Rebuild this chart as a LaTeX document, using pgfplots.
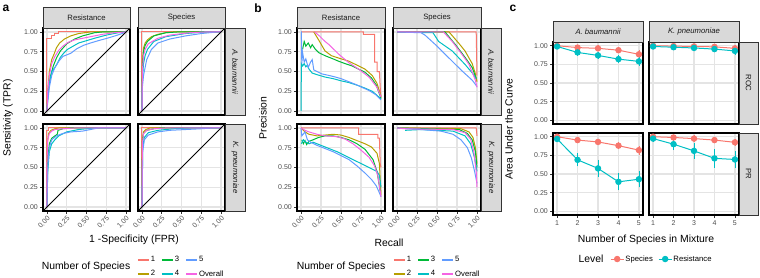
\documentclass[border=0pt]{standalone}
\usepackage{fontspec}
\setmainfont{Liberation Sans}
\usepackage{pgfplots}
\pgfplotsset{compat=1.18}
\usetikzlibrary{calc}

\definecolor{c1}{HTML}{F8766D}
\definecolor{c2}{HTML}{B79F00}
\definecolor{c3}{HTML}{00BA38}
\definecolor{c4}{HTML}{00BFC4}
\definecolor{c5}{HTML}{619CFF}
\definecolor{c6}{HTML}{F564E3}
\definecolor{stripc}{HTML}{D9D9D9}
\definecolor{grey10}{HTML}{1A1A1A}
\definecolor{grey20}{HTML}{333333}
\definecolor{grey30}{HTML}{4D4D4D}
\definecolor{gridc}{HTML}{E4E4E4}

\newcommand{\fT}{\fontsize{7}{8}\selectfont}
\newcommand{\fS}{\fontsize{7.7}{9}\selectfont}
\newcommand{\fL}{\fontsize{10.4}{12}\selectfont}

\newcommand{\tstrip}[5]{\draw[fill=stripc, draw=grey20, line width=0.5pt] (#1pt,-#2pt) rectangle (#3pt,-#4pt);
 \node[font=\fS, text=grey10, inner sep=0pt] at ($(#1pt,-#2pt)!0.5!(#3pt,-#4pt)$) {#5};}
\newcommand{\rstrip}[5]{\draw[fill=stripc, draw=grey20, line width=0.5pt] (#1pt,-#2pt) rectangle (#3pt,-#4pt);
 \node[font=\fS, text=grey10, inner sep=0pt, rotate=-90] at ($(#1pt,-#2pt)!0.5!(#3pt,-#4pt)$) {#5};}

\tikzset{
 s1/.style={c1, line width=1pt},
 s2/.style={c2, line width=1pt},
 s3/.style={c3, line width=1pt},
 s4/.style={c4, line width=1pt},
 s5/.style={c5, line width=1pt},
 s6/.style={c6, line width=1pt},
 sp/.style={c1, line width=1pt, mark=*, mark size=2.7pt, mark options={solid, fill=c1, draw=c1}},
 rs/.style={c4, line width=1pt, mark=*, mark size=2.7pt, mark options={solid, fill=c4, draw=c4}},
}

\pgfplotsset{
 common/.style={scale only axis, anchor=south west,
  xticklabels={}, yticklabels={},
  grid=major, major grid style={draw=gridc, line width=1.5pt},
  axis line style={draw=black, line width=1.2pt},
  tick align=outside, major tick length=3pt,
  tick style={draw=grey20, line width=0.7pt},
  tick label style={font=\fT, text=grey30}},
 base/.style={common, xmin=-0.05, xmax=1.05, ymin=-0.05, ymax=1.05,
  xtick={0,0.25,0.5,0.75,1}, ytick={0,0.25,0.5,0.75,1}, width=87pt, height=87pt},
 cbase/.style={common, xmin=0.8, xmax=5.2, ymin=-0.05, ymax=1.05,
  xtick={1,2,3,4,5}, ytick={0,0.25,0.5,0.75,1}, width=90pt, height=82pt},
 xl/.style={xticklabels={0.00,0.25,0.50,0.75,1.00}, xticklabel style={rotate=45, anchor=north east, inner sep=1pt}},
 yl/.style={yticklabels={0.00,0.25,0.50,0.75,1.00}, yticklabel style={inner sep=2pt}},
 cxl/.style={xticklabels={1,2,3,4,5}, xticklabel style={inner sep=2pt}},
 legA/.style={legend columns=3, legend cell align=left,
  legend style={draw=none, fill=none, font=\fS, inner sep=0pt, row sep=4.5pt,
   nodes={inner sep=1.3pt}, /tikz/every even column/.append style={column sep=5pt}},
  legend image code/.code={\draw[##1] (0pt,0pt) -- (11pt,0pt);}},
 legC/.style={legend columns=2, legend cell align=left,
  legend style={draw=none, fill=none, font=\fS, inner sep=0pt,
   nodes={inner sep=1.3pt}, /tikz/every even column/.append style={column sep=4pt}},
  legend image code/.code={\draw[mark repeat=2, mark phase=2, ##1] plot coordinates {(0pt,0pt)(6.5pt,0pt)(13pt,0pt)};}},
 ebs/.style={error bars/.cd, y dir=both, y explicit, error bar style={#1, line width=0.8pt}, error mark options={#1, mark size=2.5pt, line width=0.8pt}},
}

\begin{document}
\begin{tikzpicture}
\useasboundingbox (0pt,0pt) rectangle (760pt,-278pt);

%%%%%%%%%%%%%%%% Panel a %%%%%%%%%%%%%%%%
\begin{axis}[base, at={(43pt,-115pt)}, xtick pos=right, ytick pos=left, yl]
\addplot[s1] coordinates {(0,0)(0,0.92)(0.06,0.92)(0.06,0.95)(0.1,0.95)(0.1,0.98)(0.15,0.98)(0.15,1)(1,1)};
\addplot[s2] coordinates {(0,0)(0.01,0.25)(0.03,0.5)(0.06,0.65)(0.09,0.72)(0.12,0.8)(0.16,0.86)(0.22,0.91)(0.3,0.95)(0.4,0.98)(0.55,1)(1,1)};
\addplot[s3] coordinates {(0,0)(0.01,0.2)(0.04,0.42)(0.08,0.57)(0.12,0.67)(0.17,0.76)(0.25,0.85)(0.35,0.91)(0.45,0.95)(0.6,0.99)(0.7,1)(1,1)};
\addplot[s4] coordinates {(0,0)(0.01,0.15)(0.03,0.35)(0.06,0.5)(0.1,0.55)(0.13,0.6)(0.17,0.68)(0.21,0.73)(0.26,0.78)(0.33,0.82)(0.4,0.86)(0.5,0.89)(0.6,0.92)(0.75,0.96)(0.9,0.99)(1,1)};
\addplot[s5] coordinates {(0,0)(0.01,0.12)(0.03,0.3)(0.06,0.45)(0.1,0.55)(0.15,0.63)(0.2,0.69)(0.25,0.71)(0.3,0.73)(0.38,0.79)(0.46,0.83)(0.55,0.86)(0.65,0.89)(0.76,0.92)(0.86,0.95)(0.95,0.98)(1,1)};
\addplot[s6] coordinates {(0,0)(0.01,0.25)(0.03,0.45)(0.06,0.6)(0.1,0.69)(0.15,0.77)(0.2,0.82)(0.27,0.87)(0.35,0.9)(0.45,0.92)(0.55,0.94)(0.7,0.97)(0.85,0.99)(1,1)};
\addplot[black, line width=1pt] coordinates {(-0.05,-0.05)(1.05,1.05)};
\end{axis}

\begin{axis}[base, at={(138pt,-115pt)}, xtick pos=right, ytick pos=right]
\addplot[s1] coordinates {(0,0)(0,1)(1,1)};
\addplot[s2] coordinates {(0,0)(0.005,0.6)(0.02,0.8)(0.04,0.86)(0.07,0.9)(0.12,0.94)(0.2,0.97)(0.3,0.99)(0.4,1)(1,1)};
\addplot[s3] coordinates {(0,0)(0.005,0.55)(0.02,0.75)(0.04,0.83)(0.07,0.88)(0.15,0.95)(0.3,0.99)(0.45,1)(1,1)};
\addplot[s4] coordinates {(0,0)(0.005,0.4)(0.02,0.6)(0.04,0.7)(0.07,0.78)(0.15,0.88)(0.3,0.94)(0.55,0.98)(0.8,1)(1,1)};
\addplot[s5] coordinates {(0,0)(0.005,0.3)(0.02,0.45)(0.06,0.65)(0.12,0.78)(0.2,0.86)(0.35,0.91)(0.55,0.95)(0.75,0.98)(0.95,1)(1,1)};
\addplot[s6] coordinates {(0,0)(0.005,0.5)(0.02,0.7)(0.04,0.78)(0.08,0.85)(0.2,0.92)(0.35,0.96)(0.6,0.99)(0.8,1)(1,1)};
\addplot[black, line width=1pt] coordinates {(-0.05,-0.05)(1.05,1.05)};
\end{axis}

\begin{axis}[base, at={(43pt,-211pt)}, xtick pos=left, ytick pos=left, xl, yl, legA,
  legend style={at={(1.08,-0.644)}, anchor=west}]
\addlegendimage{c1, line width=1.3pt}\addlegendentry{1}
\addlegendimage{c3, line width=1.3pt}\addlegendentry{3}
\addlegendimage{c5, line width=1.3pt}\addlegendentry{5}
\addlegendimage{c2, line width=1.3pt}\addlegendentry{2}
\addlegendimage{c4, line width=1.3pt}\addlegendentry{4}
\addlegendimage{c6, line width=1.3pt}\addlegendentry{Overall}
\addplot[s1] coordinates {(0,0)(0,0.97)(0.02,0.97)(0.02,1)(1,1)};
\addplot[s2] coordinates {(0,0)(0.005,0.8)(0.02,0.93)(0.05,0.97)(0.1,0.99)(0.15,1)(1,1)};
\addplot[s3] coordinates {(0,0)(0.01,0.6)(0.03,0.8)(0.06,0.87)(0.1,0.9)(0.13,0.92)(0.14,0.97)(0.2,0.99)(0.3,1)(1,1)};
\addplot[s4] coordinates {(0,0)(0.01,0.45)(0.03,0.7)(0.06,0.8)(0.1,0.85)(0.15,0.9)(0.25,0.95)(0.4,0.98)(0.6,1)(1,1)};
\addplot[s5] coordinates {(0,0)(0.01,0.5)(0.03,0.75)(0.06,0.85)(0.12,0.9)(0.2,0.93)(0.3,0.95)(0.45,0.96)(0.55,0.98)(0.65,1)(1,1)};
\addplot[s6] coordinates {(0,0)(0,0.55)(0.01,0.85)(0.03,0.93)(0.06,0.96)(0.1,0.98)(0.2,0.99)(0.35,1)(1,1)};
\addplot[black, line width=1pt] coordinates {(-0.05,-0.05)(1.05,1.05)};
\end{axis}

\begin{axis}[base, at={(138pt,-211pt)}, xtick pos=left, ytick pos=right, xl]
\addplot[s1] coordinates {(0,0)(0,1)(1,1)};
\addplot[s2] coordinates {(0,0)(0.005,0.85)(0.02,0.95)(0.05,0.98)(0.1,1)(1,1)};
\addplot[s3] coordinates {(0,0)(0.005,0.82)(0.02,0.93)(0.06,0.97)(0.15,0.99)(0.25,1)(1,1)};
\addplot[s4] coordinates {(0,0)(0.01,0.75)(0.03,0.88)(0.08,0.94)(0.2,0.97)(0.4,0.99)(0.6,1)(1,1)};
\addplot[s5] coordinates {(0,0)(0.01,0.7)(0.03,0.85)(0.08,0.91)(0.2,0.95)(0.35,0.97)(0.55,0.98)(0.75,0.99)(0.9,1)(1,1)};
\addplot[s6] coordinates {(0,0)(0.005,0.8)(0.02,0.93)(0.06,0.97)(0.15,0.99)(0.3,1)(1,1)};
\addplot[black, line width=1pt] coordinates {(-0.05,-0.05)(1.05,1.05)};
\end{axis}

\tstrip{43}{7}{130}{28}{Resistance}
\tstrip{138}{7}{225}{28}{Species}
\rstrip{225}{28}{245}{115}{\itshape A. baumannii}
\rstrip{225}{124}{245}{211}{\itshape K. pneumoniae}

\node[font=\bfseries\fontsize{12}{13}\selectfont, inner sep=0pt] at (6pt,-8pt) {a};
\node[font=\fL, rotate=90, inner sep=0pt] at (8pt,-118pt) {Sensitivity (TPR)};
\node[font=\fL, inner sep=0pt] at (134pt,-240pt) {1 -Specificity (FPR)};
\node[font=\fL, inner sep=0pt] at (86pt,-267pt) {Number of Species};

%%%%%%%%%%%%%%%% Panel b %%%%%%%%%%%%%%%%
\begin{axis}[base, width=88pt, at={(297pt,-115pt)}, xtick pos=right, ytick pos=left, yl]
\addplot[s1] coordinates {(0,1)(0.78,1)(0.78,0.97)(0.92,0.97)(0.92,0.62)(0.95,0.62)(0.95,0.5)(0.98,0.5)(0.99,0.3)(1,0.17)};
\addplot[s2] coordinates {(0.16,1)(0.22,0.9)(0.3,0.76)(0.38,0.7)(0.47,0.67)(0.6,0.63)(0.72,0.57)(0.8,0.53)(0.89,0.45)(0.95,0.35)(0.99,0.22)(1,0.18)};
\addplot[s3] coordinates {(0.02,0.78)(0.04,0.88)(0.06,0.82)(0.09,0.86)(0.12,0.8)(0.14,0.84)(0.18,0.78)(0.22,0.74)(0.3,0.7)(0.4,0.66)(0.47,0.63)(0.55,0.6)(0.64,0.57)(0.72,0.53)(0.8,0.49)(0.88,0.42)(0.94,0.33)(1,0.16)};
\addplot[s4] coordinates {(0,0)(0.005,0.6)(0.02,0.57)(0.04,0.6)(0.06,0.56)(0.08,0.58)(0.1,0.53)(0.14,0.48)(0.2,0.46)(0.3,0.43)(0.4,0.41)(0.51,0.38)(0.6,0.36)(0.72,0.32)(0.8,0.29)(0.89,0.25)(0.95,0.2)(1,0.15)};
\addplot[s5] coordinates {(0,1)(0.005,1)(0.01,0.6)(0.02,0.74)(0.04,0.62)(0.06,0.66)(0.09,0.55)(0.12,0.62)(0.14,0.65)(0.16,0.52)(0.2,0.5)(0.26,0.47)(0.35,0.45)(0.43,0.43)(0.5,0.41)(0.6,0.37)(0.7,0.33)(0.76,0.3)(0.85,0.26)(0.93,0.21)(1,0.14)};
\addplot[s6] coordinates {(0.17,1)(0.23,0.95)(0.3,0.88)(0.35,0.84)(0.47,0.72)(0.6,0.61)(0.72,0.53)(0.85,0.43)(0.95,0.3)(1,0.18)};
\end{axis}

\begin{axis}[base, width=88pt, at={(393pt,-115pt)}, xtick pos=right, ytick pos=right]
\addplot[s1] coordinates {(0,1)(0.99,1)(1,0.45)};
\addplot[s2] coordinates {(0,1)(0.65,1)(0.77,0.86)(0.85,0.76)(0.94,0.6)(0.98,0.47)(1,0.37)};
\addplot[s3] coordinates {(0,1)(0.6,1)(0.73,0.84)(0.85,0.68)(0.94,0.55)(0.99,0.41)};
\addplot[s4] coordinates {(0,1)(0.45,0.99)(0.52,0.88)(0.69,0.76)(0.85,0.59)(0.95,0.47)(0.99,0.41)};
\addplot[s5] coordinates {(0,1)(0.3,0.99)(0.35,0.96)(0.48,0.84)(0.65,0.67)(0.81,0.51)(0.94,0.39)(1,0.31)};
\addplot[s6] coordinates {(0,1)(0.58,1)(0.69,0.88)(0.81,0.72)(0.9,0.59)(0.98,0.39)(1,0.3)};
\end{axis}

\begin{axis}[base, width=88pt, at={(297pt,-211pt)}, xtick pos=left, ytick pos=left, xl, yl, legA,
  legend style={at={(1.091,-0.644)}, anchor=west}]
\addlegendimage{c1, line width=1.3pt}\addlegendentry{1}
\addlegendimage{c3, line width=1.3pt}\addlegendentry{3}
\addlegendimage{c5, line width=1.3pt}\addlegendentry{5}
\addlegendimage{c2, line width=1.3pt}\addlegendentry{2}
\addlegendimage{c4, line width=1.3pt}\addlegendentry{4}
\addlegendimage{c6, line width=1.3pt}\addlegendentry{Overall}
\addplot[s1] coordinates {(0,1)(0.72,1)(0.72,0.92)(0.96,0.92)(0.96,0.87)(0.98,0.87)(0.99,0.55)(1,0.5)};
\addplot[s2] coordinates {(0,1)(0.05,0.95)(0.1,0.92)(0.2,0.9)(0.3,0.91)(0.4,0.92)(0.5,0.91)(0.6,0.88)(0.7,0.84)(0.8,0.8)(0.88,0.76)(0.95,0.68)(0.98,0.55)(1,0.15)};
\addplot[s3] coordinates {(0.01,0.85)(0.03,0.8)(0.05,0.84)(0.07,0.79)(0.1,0.83)(0.15,0.85)(0.22,0.88)(0.3,0.9)(0.4,0.9)(0.5,0.88)(0.6,0.85)(0.7,0.8)(0.8,0.73)(0.9,0.6)(0.95,0.45)(0.99,0.2)};
\addplot[s4] coordinates {(0.005,0.8)(0.03,0.85)(0.06,0.82)(0.1,0.8)(0.15,0.82)(0.25,0.78)(0.35,0.74)(0.45,0.7)(0.55,0.65)(0.65,0.6)(0.75,0.55)(0.85,0.5)(0.95,0.45)(0.98,0.4)(1,0.25)};
\addplot[s5] coordinates {(0,1)(0.01,0.9)(0.05,0.95)(0.08,0.85)(0.12,0.82)(0.2,0.78)(0.3,0.74)(0.4,0.7)(0.5,0.65)(0.6,0.6)(0.7,0.52)(0.8,0.43)(0.88,0.35)(0.94,0.27)(0.98,0.18)(1,0.13)};
\addplot[s6] coordinates {(0,1)(0.05,0.97)(0.1,0.95)(0.2,0.92)(0.3,0.9)(0.45,0.89)(0.55,0.86)(0.65,0.8)(0.75,0.72)(0.85,0.63)(0.92,0.52)(0.96,0.4)(0.99,0.2)(1,0.13)};
\end{axis}

\begin{axis}[base, width=88pt, at={(393pt,-211pt)}, xtick pos=left, ytick pos=right, xl]
\addplot[s1] coordinates {(0,1)(0.99,1)(1,0.9)};
\addplot[s2] coordinates {(0,1)(0.8,0.99)(0.9,0.95)(0.95,0.88)(0.98,0.75)(1,0.55)};
\addplot[s3] coordinates {(0,1)(0.78,0.98)(0.88,0.93)(0.94,0.85)(0.98,0.7)(1,0.5)};
\addplot[s4] coordinates {(0.1,0.97)(0.3,0.98)(0.7,0.96)(0.85,0.9)(0.92,0.8)(0.97,0.62)(1,0.45)};
\addplot[s5] coordinates {(0,1)(0.3,0.98)(0.55,0.96)(0.7,0.92)(0.8,0.85)(0.88,0.75)(0.93,0.62)(0.97,0.45)(1,0.3)};
\addplot[s6] coordinates {(0,1)(0.1,0.99)(0.7,0.98)(0.85,0.94)(0.92,0.86)(0.96,0.7)(0.99,0.45)(1,0.25)};
\end{axis}

\tstrip{297}{7}{385}{28}{Resistance}
\tstrip{393}{7}{481}{28}{Species}
\rstrip{481}{28}{501}{115}{\itshape A. baumannii}
\rstrip{481}{124}{501}{211}{\itshape K. pneumoniae}

\node[font=\bfseries\fontsize{12}{13}\selectfont, inner sep=0pt] at (258pt,-8pt) {b};
\node[font=\fL, rotate=90, inner sep=0pt] at (263pt,-118pt) {Precision};
\node[font=\fL, inner sep=0pt] at (389pt,-243pt) {Recall};
\node[font=\fL, inner sep=0pt] at (341pt,-267pt) {Number of Species};

%%%%%%%%%%%%%%%% Panel c %%%%%%%%%%%%%%%%
\begin{axis}[cbase, at={(553pt,-124pt)}, xtick pos=right, ytick pos=left, yl]
\addplot[sp, ebs=c1] coordinates {(1,1.0) +- (0,0.003) (2,0.975) +- (0,0.005) (3,0.965) +- (0,0.008) (4,0.94) +- (0,0.01) (5,0.885) +- (0,0.02)};
\addplot[rs, ebs=c4] coordinates {(1,0.99) +- (0,0.005) (2,0.91) +- (0,0.01) (3,0.87) +- (0,0.012) (4,0.82) +- (0,0.02) (5,0.79) +- (0,0.03)};
\end{axis}

\begin{axis}[cbase, at={(649pt,-124pt)}, xtick pos=right, ytick pos=right]
\addplot[sp, ebs=c1] coordinates {(1,1.0) +- (0,0.002) (2,0.995) +- (0,0.003) (3,0.99) +- (0,0.004) (4,0.985) +- (0,0.005) (5,0.965) +- (0,0.01)};
\addplot[rs, ebs=c4] coordinates {(1,0.99) +- (0,0.004) (2,0.98) +- (0,0.006) (3,0.97) +- (0,0.01) (4,0.955) +- (0,0.012) (5,0.93) +- (0,0.015)};
\end{axis}

\begin{axis}[cbase, at={(553pt,-215pt)}, xtick pos=left, ytick pos=left, yl, cxl, legC,
  legend style={at={(0.633,-0.537)}, anchor=west}]
\addlegendimage{sp}\addlegendentry{Species}
\addlegendimage{rs}\addlegendentry{Resistance}
\addplot[sp, ebs=c1] coordinates {(1,1.0) +- (0,0.003) (2,0.955) +- (0,0.01) (3,0.93) +- (0,0.012) (4,0.88) +- (0,0.015) (5,0.82) +- (0,0.025)};
\addplot[rs, ebs=c4] coordinates {(1,0.97) +- (0,0.01) (2,0.69) +- (0,0.055) (3,0.575) +- (0,0.08) (4,0.395) +- (0,0.08) (5,0.43) +- (0,0.077)};
\end{axis}

\begin{axis}[cbase, at={(649pt,-215pt)}, xtick pos=left, ytick pos=right, cxl]
\addplot[sp, ebs=c1] coordinates {(1,1.0) +- (0,0.003) (2,0.99) +- (0,0.005) (3,0.975) +- (0,0.008) (4,0.955) +- (0,0.01) (5,0.925) +- (0,0.015)};
\addplot[rs, ebs=c4] coordinates {(1,0.975) +- (0,0.01) (2,0.90) +- (0,0.045) (3,0.81) +- (0,0.07) (4,0.71) +- (0,0.09) (5,0.695) +- (0,0.08)};
\end{axis}

\tstrip{553}{21}{643}{42}{\itshape A. baumannii}
\tstrip{649}{21}{739}{42}{\itshape K. pneumoniae}
\rstrip{739}{42}{758}{124}{ROC}
\rstrip{739}{133}{758}{215}{PR}

\node[font=\bfseries\fontsize{12}{13}\selectfont, inner sep=0pt] at (513pt,-8pt) {c};
\node[font=\fL, rotate=90, inner sep=0pt] at (509pt,-129pt) {Area Under the Curve};
\node[font=\fL, inner sep=0pt] at (646pt,-240pt) {Number of Species in Mixture};
\node[font=\fL, inner sep=0pt] at (591pt,-259pt) {Level};

\end{tikzpicture}
\end{document}
